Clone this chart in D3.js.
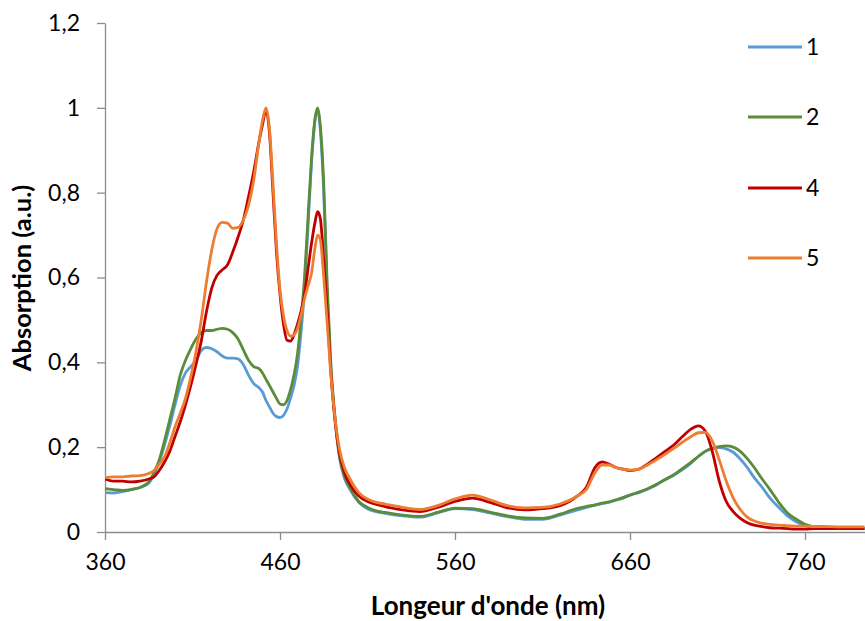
<!DOCTYPE html>
<html>
<head>
<meta charset="utf-8">
<script src="https://cdn.jsdelivr.net/npm/d3@7"></script>
<style>
  html, body { margin: 0; padding: 0; background: #ffffff; }
  svg { display: block; font-family: Lato, "Open Sans", sans-serif; }
</style>
</head>
<body>
<svg id="chart" width="865" height="621"></svg>
<script>
// ---- data ----
const wavelengths = [360, 365, 370, 375, 380, 385, 388, 391, 394, 397, 400, 403, 406, 409, 412, 415, 418, 421, 424, 427, 430, 433, 436, 439, 442, 445, 448, 450, 452, 454, 456, 458, 460, 462, 464, 466, 468, 470, 472, 474, 476, 478, 480, 481.5, 483, 485, 487, 489, 491, 494, 497, 500, 505, 510, 515, 520, 530, 540, 550, 560, 570, 580, 590, 600, 610, 620, 630, 635, 640, 644, 648, 652, 656, 660, 665, 670, 675, 680, 685, 690, 695, 699, 703, 707, 711, 715, 719, 723, 727, 731, 735, 740, 745, 750, 755, 760, 765, 770, 780, 794];

const series1 = [0.093, 0.092, 0.095, 0.100, 0.105, 0.115, 0.135, 0.165, 0.205, 0.250, 0.300, 0.345, 0.375, 0.390, 0.405, 0.428, 0.435, 0.432, 0.425, 0.415, 0.410, 0.410, 0.408, 0.395, 0.370, 0.350, 0.340, 0.330, 0.310, 0.295, 0.280, 0.272, 0.270, 0.275, 0.290, 0.315, 0.345, 0.390, 0.470, 0.570, 0.720, 0.870, 0.970, 0.995, 0.950, 0.800, 0.560, 0.390, 0.285, 0.175, 0.125, 0.100, 0.070, 0.055, 0.048, 0.044, 0.038, 0.035, 0.045, 0.055, 0.053, 0.045, 0.036, 0.030, 0.030, 0.040, 0.052, 0.058, 0.063, 0.067, 0.070, 0.075, 0.080, 0.087, 0.093, 0.101, 0.111, 0.124, 0.134, 0.147, 0.163, 0.178, 0.190, 0.197, 0.199, 0.196, 0.188, 0.172, 0.152, 0.128, 0.108, 0.080, 0.058, 0.038, 0.024, 0.015, 0.011, 0.010, 0.009, 0.008];

const series2 = [0.102, 0.100, 0.098, 0.100, 0.105, 0.118, 0.140, 0.170, 0.215, 0.265, 0.315, 0.370, 0.405, 0.432, 0.455, 0.470, 0.475, 0.475, 0.478, 0.480, 0.478, 0.470, 0.455, 0.430, 0.405, 0.390, 0.385, 0.375, 0.360, 0.345, 0.330, 0.315, 0.302, 0.300, 0.310, 0.335, 0.370, 0.420, 0.500, 0.600, 0.740, 0.880, 0.975, 1.000, 0.960, 0.820, 0.580, 0.400, 0.290, 0.180, 0.130, 0.105, 0.072, 0.058, 0.050, 0.046, 0.040, 0.037, 0.046, 0.056, 0.055, 0.047, 0.038, 0.033, 0.032, 0.042, 0.056, 0.060, 0.064, 0.068, 0.071, 0.076, 0.081, 0.087, 0.094, 0.102, 0.112, 0.123, 0.135, 0.150, 0.165, 0.178, 0.190, 0.197, 0.201, 0.203, 0.200, 0.190, 0.173, 0.152, 0.128, 0.100, 0.070, 0.045, 0.030, 0.018, 0.012, 0.010, 0.009, 0.008];

const series4 = [0.125, 0.120, 0.120, 0.118, 0.120, 0.125, 0.130, 0.145, 0.165, 0.190, 0.225, 0.260, 0.300, 0.345, 0.395, 0.450, 0.520, 0.575, 0.605, 0.618, 0.630, 0.660, 0.695, 0.735, 0.790, 0.850, 0.920, 0.960, 0.995, 0.940, 0.800, 0.660, 0.560, 0.490, 0.452, 0.450, 0.465, 0.490, 0.520, 0.560, 0.620, 0.680, 0.730, 0.755, 0.740, 0.640, 0.520, 0.380, 0.280, 0.185, 0.138, 0.112, 0.085, 0.072, 0.065, 0.060, 0.052, 0.048, 0.058, 0.072, 0.080, 0.070, 0.057, 0.052, 0.055, 0.062, 0.085, 0.105, 0.152, 0.165, 0.160, 0.152, 0.148, 0.145, 0.148, 0.160, 0.175, 0.190, 0.205, 0.225, 0.243, 0.250, 0.238, 0.190, 0.120, 0.072, 0.048, 0.032, 0.022, 0.016, 0.013, 0.010, 0.009, 0.008, 0.007, 0.007, 0.008, 0.008, 0.008, 0.008];

const series5 = [0.128, 0.130, 0.130, 0.132, 0.133, 0.138, 0.145, 0.160, 0.177, 0.210, 0.248, 0.280, 0.315, 0.365, 0.425, 0.500, 0.590, 0.665, 0.715, 0.730, 0.728, 0.716, 0.718, 0.735, 0.770, 0.830, 0.920, 0.970, 1.000, 0.950, 0.820, 0.680, 0.570, 0.510, 0.475, 0.462, 0.465, 0.480, 0.510, 0.550, 0.580, 0.610, 0.670, 0.700, 0.690, 0.600, 0.490, 0.375, 0.285, 0.195, 0.150, 0.125, 0.093, 0.078, 0.070, 0.066, 0.058, 0.053, 0.062, 0.078, 0.087, 0.076, 0.062, 0.057, 0.058, 0.066, 0.085, 0.100, 0.140, 0.158, 0.158, 0.152, 0.148, 0.146, 0.148, 0.158, 0.170, 0.183, 0.197, 0.212, 0.225, 0.234, 0.235, 0.215, 0.170, 0.120, 0.080, 0.053, 0.035, 0.026, 0.021, 0.018, 0.016, 0.015, 0.014, 0.014, 0.013, 0.013, 0.012, 0.012];

const seriesNames = ["1", "2", "4", "5"];
const seriesColors = ["#5B9BD5", "#5A8C3A", "#C00000", "#ED7D31"];
const xTicks = [360, 460, 560, 660, 760];
const yTicks = [0, 0.2, 0.4, 0.6, 0.8, 1, 1.2];
const xTitle = "Longeur d'onde (nm)";
const yTitle = "Absorption (a.u.)";

// ---- layout ----
const svg = d3.select("#chart");
const plotLeft = 105, plotRight = 865, plotTop = 23, plotBottom = 532;
const x = d3.scaleLinear().domain([360, 360 + (plotRight - plotLeft) / 1.75]).range([plotLeft, plotRight]);
const y = d3.scaleLinear().domain([0, 1.2]).range([plotBottom, plotTop]);
const axisColor = "#8c8c8c";
const fmt = d => String(d).replace(".", ",");

// axes
const gx = svg.append("g").attr("transform", `translate(0,${plotBottom})`)
  .call(d3.axisBottom(x).tickValues(xTicks).tickSize(8).tickSizeOuter(0).tickPadding(14).tickFormat(d => d));
const gy = svg.append("g").attr("transform", `translate(${plotLeft},0)`)
  .call(d3.axisLeft(y).tickValues(yTicks).tickSize(8).tickSizeOuter(0).tickPadding(17).tickFormat(fmt));
[gx, gy].forEach(g => {
  g.selectAll("path, line").attr("stroke", axisColor).attr("stroke-width", 1.3);
  g.selectAll("text").attr("fill", "#000").style("font-size", "23px").style("font-family", "Lato, sans-serif");
});

// lines
const allSeries = [series1, series2, series4, series5];
const line = d3.line().x(d => x(d[0])).y(d => y(d[1])).curve(d3.curveMonotoneX);
svg.append("defs").append("clipPath").attr("id", "clip")
  .append("rect").attr("x", plotLeft).attr("y", 0).attr("width", plotRight - plotLeft).attr("height", plotBottom + 2);
const gl = svg.append("g").attr("clip-path", "url(#clip)");
allSeries.forEach((vals, i) => {
  gl.append("path")
    .datum(wavelengths.map((w, j) => [w, vals[j]]))
    .attr("fill", "none")
    .attr("stroke", seriesColors[i])
    .attr("stroke-width", 2.8)
    .attr("stroke-linejoin", "round")
    .attr("d", line);
});

// legend
const legendY = [47, 117, 188, 258];
seriesNames.forEach((n, i) => {
  svg.append("line").attr("x1", 748).attr("x2", 802).attr("y1", legendY[i]).attr("y2", legendY[i])
    .attr("stroke", seriesColors[i]).attr("stroke-width", 3);
  svg.append("text").attr("x", 806).attr("y", legendY[i]).attr("dy", "0.35em")
    .style("font-size", "23px").text(n);
});

// titles
svg.append("text").attr("x", 488).attr("y", 615).attr("text-anchor", "middle")
  .style("font-size", "26px").style("font-weight", "bold").text(xTitle);
svg.append("text").attr("transform", "translate(31,278) rotate(-90)").attr("text-anchor", "middle")
  .style("font-size", "25.5px").style("font-weight", "bold").text(yTitle);
</script>
</body>
</html>
